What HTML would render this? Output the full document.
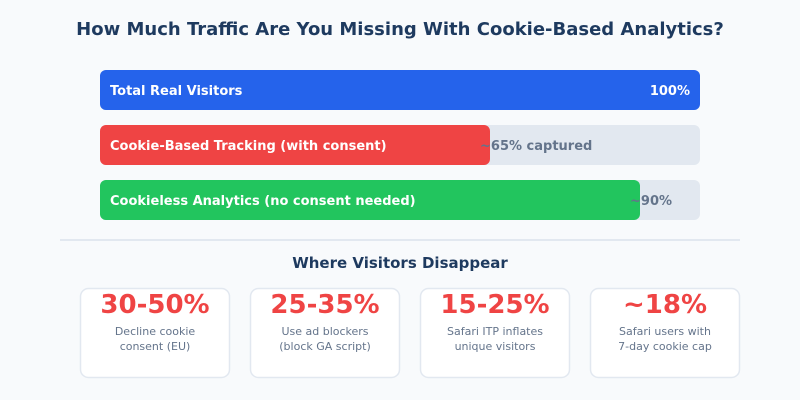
<!DOCTYPE html>
<html><head><meta charset="utf-8"><style>
html,body{margin:0;padding:0;background:#f8fafc;}
svg{display:block;font-family:"DejaVu Sans","Liberation Sans",sans-serif;}
</style></head><body>
<svg id="c" width="800" height="400" viewBox="0 0 800 400">
<rect width="800" height="400" fill="#f8fafc"/>
<text x="400" y="35" text-anchor="middle" font-size="18" font-weight="bold" fill="#1e3a5f">How Much Traffic Are You Missing With Cookie-Based Analytics?</text>
<line x1="60" y1="240" x2="740" y2="240" stroke="#e2e8f0" stroke-width="2"/>
<text x="400" y="268" text-anchor="middle" font-size="15" font-weight="bold" fill="#1e3a5f">Where Visitors Disappear</text>
</svg>
<script>
const barLabels=["Total Real Visitors","Cookie-Based Tracking (with consent)","Cookieless Analytics (no consent needed)"];
const barValues=[100,65,90];
const barValueLabels=["100%","~65% captured","~90%"];
const barColors=["#2563eb","#ef4444","#22c55e"];
const statValues=["30-50%","25-35%","15-25%","~18%"];
const statLine1=["Decline cookie","Use ad blockers","Safari ITP inflates","Safari users with"];
const statLine2=["consent (EU)","(block GA script)","unique visitors","7-day cookie cap"];
const svg=document.getElementById('c');const NS="http://www.w3.org/2000/svg";
function mk(t,a,txt){const e=document.createElementNS(NS,t);for(const k in a)e.setAttribute(k,a[k]);if(txt!=null)e.textContent=txt;svg.appendChild(e);return e;}
const x0=100,W=600;const xs=v=>W*v/100;
barValues.forEach((v,i)=>{
 const y=70+i*55;
 const tr=mk('rect',{x:x0,y:y,width:W,height:40,rx:6,fill:'#e2e8f0'});
 
 
 const b=mk('rect',{x:x0,y:y,width:xs(v),height:40,rx:6,fill:barColors[i]});
 
 
 const l=mk('text',{x:110,y:y+25,'font-size':13,'font-weight':'bold',fill:'#fff'},barLabels[i]);
 
 
 let vl;
 if(v>=100){vl=mk('text',{x:x0+xs(v)-10,y:y+25,'font-size':13,'font-weight':'bold',fill:'#fff','text-anchor':'end'},barValueLabels[i]);}
 else{vl=mk('text',{x:x0+xs(v)-10,y:y+25,'font-size':13,'font-weight':'bold',fill:'#64748b'},barValueLabels[i]);}
 
 
});
statValues.forEach((s,i)=>{
 const x=80+i*170;
 const r=mk('rect',{x:x+0.5,y:288.5,width:149,height:89,rx:8,fill:'#fff',stroke:'#e2e8f0','stroke-width':1.5});
 
 
 const t=mk('text',{x:x+75,y:313,'font-size':26,'font-weight':'bold',fill:'#ef4444','text-anchor':'middle'},s);
 
 
 const a=mk('text',{x:x+75,y:335,'font-size':11,fill:'#64748b','text-anchor':'middle'},statLine1[i]);
 
 
 const b=mk('text',{x:x+75,y:350,'font-size':11,fill:'#64748b','text-anchor':'middle'},statLine2[i]);
 
 
});
</script>
</body></html>
